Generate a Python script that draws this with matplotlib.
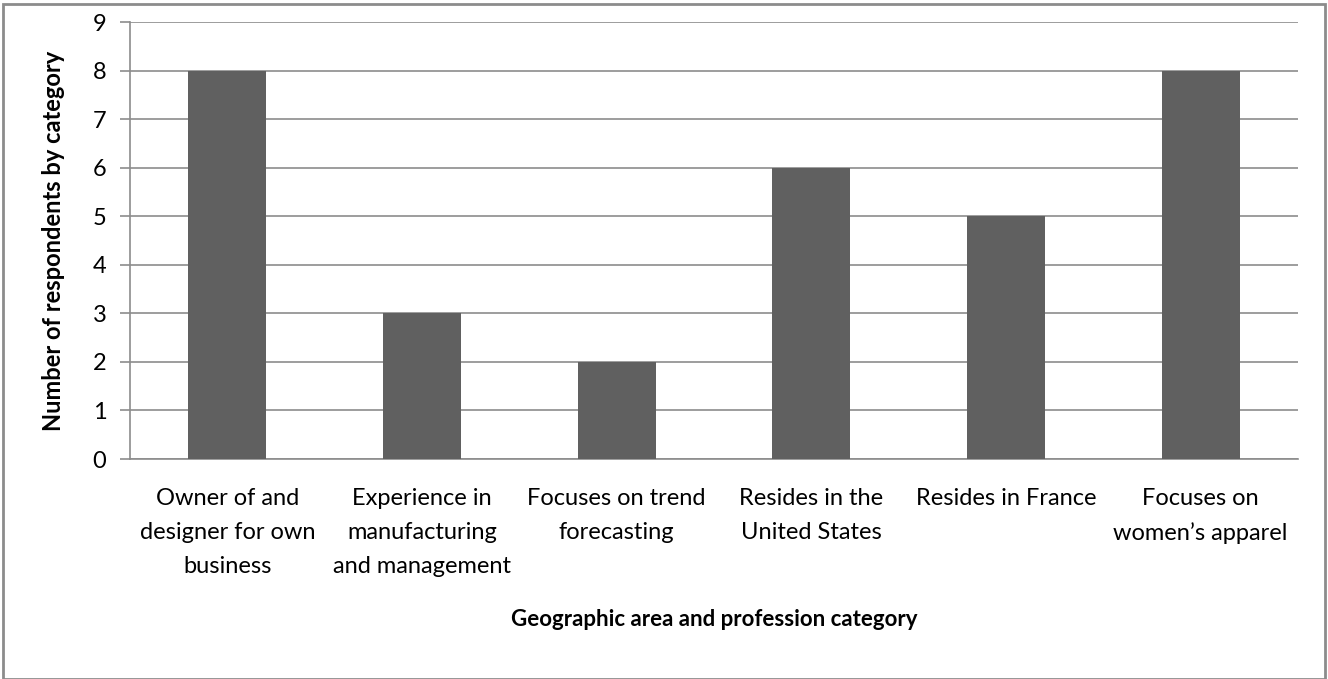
import matplotlib
matplotlib.use("Agg")
import matplotlib.pyplot as plt
from matplotlib.patches import Rectangle

categories = ["Owner of and\ndesigner for own\nbusiness",
              "Experience in\nmanufacturing\nand management",
              "Focuses on trend\nforecasting",
              "Resides in the\nUnited States",
              "Resides in France",
              "Focuses on\nwomen\u2019s apparel"]
values = [8, 3, 2, 6, 5, 8]
yticks = list(range(0, 10))

plt.rcParams['font.family'] = ['Lato', 'DejaVu Sans']
W, H = 1328, 679
fig = plt.figure(figsize=(W/100, H/100), dpi=100)
ax = fig.add_axes([130/W, 1-459/H, (1298-130)/W, (459-22)/H])

x = list(range(len(categories)))
ax.bar(x, values, width=0.4, color="#606060", zorder=3)
ax.set_xlim(-0.5, len(categories)-0.5)
ax.set_ylim(0, 9)
ax.set_yticks(yticks)
ax.set_yticklabels([str(t) for t in yticks], fontsize=17)
ax.set_xticks(x)
ax.set_xticklabels(categories, fontsize=17, linespacing=1.75)
ax.tick_params(axis='x', length=0, pad=21)
ax.tick_params(axis='y', length=7, width=1.2, color="#8c8c8c", pad=10)
ax.grid(axis='y', color="#8c8c8c", linewidth=1.2, zorder=0)
for s in ['top', 'right']:
    ax.spines[s].set_visible(False)
for s in ['left', 'bottom']:
    ax.spines[s].set_color("#8c8c8c")
    ax.spines[s].set_linewidth(1.2)

ax.set_ylabel("Number of respondents by category", fontsize=17, fontweight='bold', labelpad=20)
ax.set_xlabel("Geographic area and profession category", fontsize=16, fontweight='bold', labelpad=23)

fig.patches.append(Rectangle((3/W, 0), (W-6)/W, 1-4/H, transform=fig.transFigure,
                             fill=False, edgecolor="#8c8c8c", linewidth=2))
fig.savefig("out.png", dpi=100)
